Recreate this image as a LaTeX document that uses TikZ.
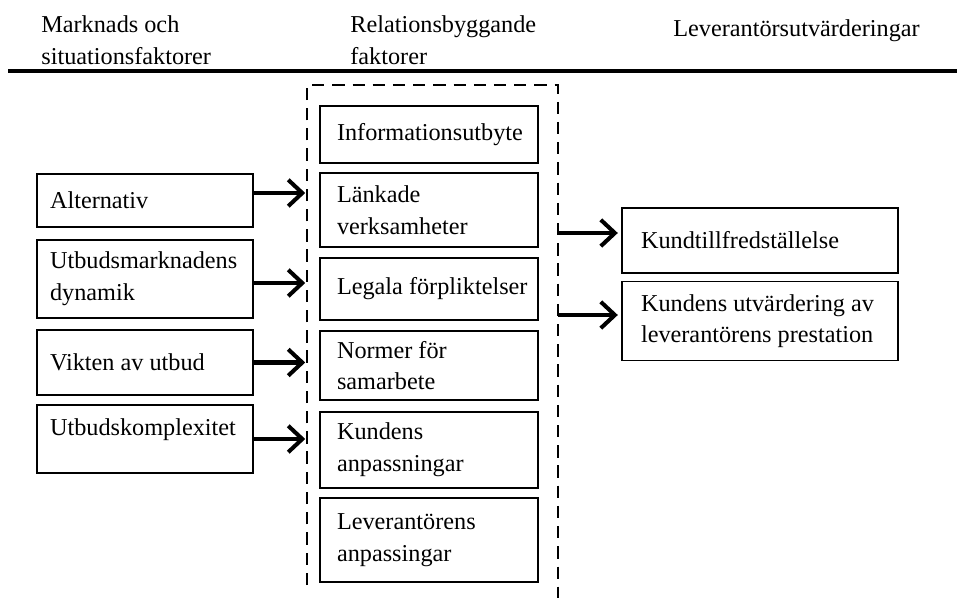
\documentclass[tikz,border=0pt]{standalone}
\usepackage{fontspec}
\setmainfont{Liberation Serif}
\usetikzlibrary{positioning,arrows.meta}
\newcommand*{\stil}{\fontsize{13.8}{18}\selectfont}
\tikzset{
  ruta/.style={draw,line width=0.8pt,align=left,inner xsep=0.15cm,inner ysep=0pt,
    font=\stil,execute at begin node={\leftskip=#1\spaceskip=0.25em\relax}},
  faktor/.style={ruta=0.11cm,text width=4.02cm},
  relation/.style={ruta=0.19cm,text width=4.06cm},
  utvard/.style={ruta=0.23cm,text width=5.22cm},
  rubrik/.style={font=\stil,align=left,text width=5.5cm,anchor=base west,inner sep=0pt,
    execute at begin node={\spaceskip=0.25em\relax}},
  pil/.style={-{Straight Barb[length=8pt,width=15pt]},line width=2.3pt},
}

\begin{document}
\begin{tikzpicture}[x=0.02cm,y=-0.02cm]
\useasboundingbox (0,0) rectangle (957,598);
% Rubriker och linje
\node[rubrik] (rub1) at (41,33) {Marknads och\\situationsfaktorer};
\node[rubrik] (rub2) at (350,33) {Relationsbyggande\\faktorer};
\node[rubrik] (rub3) at (673,37) {Leverantörsutvärderingar};
\draw[line width=2pt] (8,71) -- (957,71);
% Streckad ram
\draw[line width=0.7pt,dash pattern=on 7pt off 4.5pt] (307,585) coordinate (vl) -- (307,85) -- (558,85) -- (558,598) coordinate (hl);
% Marknads- och situationsfaktorer
\node[faktor,minimum height=1.06cm] (alt) at (145,200.5) {Alternativ};
\node[faktor,minimum height=1.56cm] (dyn) at (145,279) {Utbudsmarknadens\\dynamik};
\node[faktor,minimum height=1.3cm] (vik) at (145,362.5) {Vikten av utbud};
\node[faktor,minimum height=1.36cm,text depth=0.49cm] (kom) at (145,439) {Utbudskomplexitet};
% Relationsbyggande faktorer
\node[relation,minimum height=1.14cm] (inf) at (429,134.5) {Informationsutbyte};
\node[relation,minimum height=1.48cm] (lnk) at (429,210) {Länkade\\verksamheter};
\node[relation,minimum height=1.24cm] (leg) at (429,289) {Legala förpliktelser};
\node[relation,minimum height=1.38cm] (nor) at (429,365.5) {Normer för\\samarbete};
\node[relation,minimum height=1.52cm] (kan) at (429,450) {Kundens\\anpassningar};
\node[relation,minimum height=1.68cm] (lan) at (429,540) {Leverantörens\\anpassingar};
% Leverantörsutvärderingar
\node[utvard,minimum height=1.3cm] (kt) at (760,240.5) {Kundtillfredställelse};
\node[utvard,minimum height=1.58cm] (ku) at (760,321) {Kundens utvärdering av\\leverantörens prestation};
% Pilar
\foreach \n/\d in {alt/0.15cm,dyn/-0.08cm,vik/0cm,kom/0cm}
  \draw[pil,shorten >=1pt] ([yshift=\d]\n.east) -- ([yshift=\d]\n.east -| vl);
\foreach \n/\d in {kt/0.15cm,ku/0.12cm}
  \draw[pil,shorten >=2pt] ([yshift=\d]\n.west -| hl) -- ([yshift=\d]\n.west);
\end{tikzpicture}
\end{document}
